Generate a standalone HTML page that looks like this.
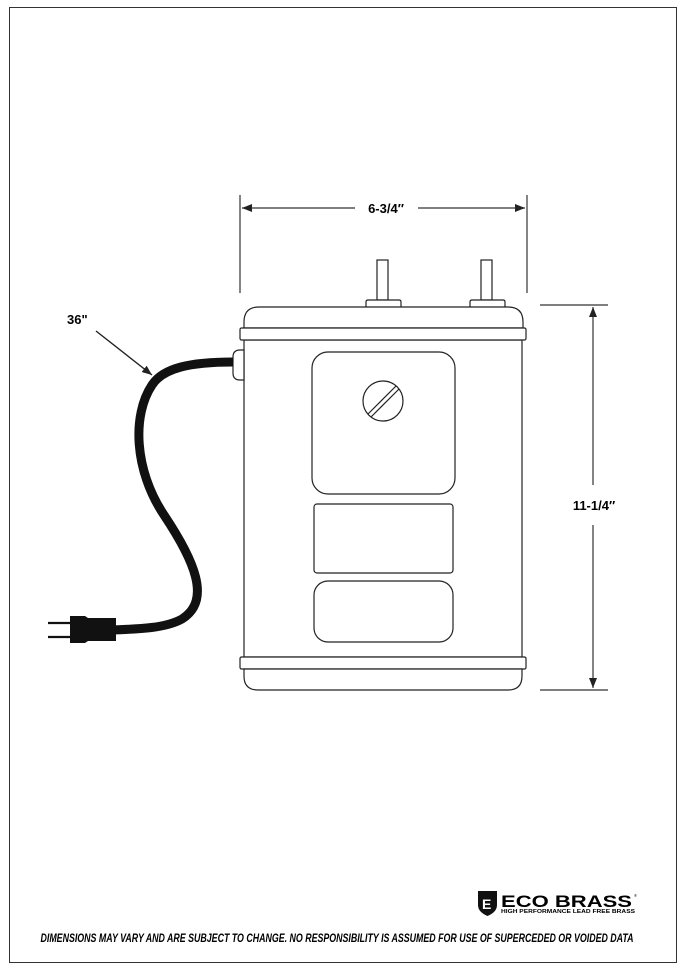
<!DOCTYPE html>
<html><head><meta charset="utf-8"><style>
html,body{margin:0;padding:0;background:#fff;}
svg{display:block;}
text{font-family:"Liberation Sans",sans-serif;}
</style></head><body>
<svg width="686" height="971" viewBox="0 0 686 971" xmlns="http://www.w3.org/2000/svg">
<defs>
<marker id="ah" markerWidth="10" markerHeight="8" refX="10" refY="4" orient="auto" markerUnits="userSpaceOnUse"><path d="M0,0 L10,4 L0,8 Z" fill="#222"/></marker>
</defs>
<rect x="9.5" y="7.5" width="667" height="955" fill="none" stroke="#333" stroke-width="1"/>
<g stroke="#333" stroke-width="1.2" fill="none">
<line x1="240" y1="195" x2="240" y2="293"/>
<line x1="527" y1="195" x2="527" y2="293"/>
</g>
<line x1="355" y1="208" x2="242" y2="208" stroke="#333" stroke-width="1.2" marker-end="url(#ah)"/>
<line x1="418" y1="208" x2="525" y2="208" stroke="#333" stroke-width="1.2" marker-end="url(#ah)"/>
<text x="386" y="213" font-size="13" font-weight="bold" text-anchor="middle">6-3/4″</text>
<line x1="540" y1="305" x2="608" y2="305" stroke="#333" stroke-width="1.2"/>
<line x1="540" y1="690" x2="608" y2="690" stroke="#333" stroke-width="1.2"/>
<line x1="593" y1="485" x2="593" y2="307" stroke="#333" stroke-width="1.2" marker-end="url(#ah)"/>
<line x1="593" y1="525" x2="593" y2="688" stroke="#333" stroke-width="1.2" marker-end="url(#ah)"/>
<text x="594" y="510" font-size="13" font-weight="bold" text-anchor="middle">11-1/4″</text>
<g fill="#fff" stroke="#222" stroke-width="1.2">
<rect x="377" y="260" width="11" height="40"/>
<rect x="481" y="260" width="11" height="40"/>
<path d="M366,307 V302 Q366,300 368,300 H399 Q401,300 401,302 V307"/>
<path d="M470,307 V302 Q470,300 472,300 H503 Q505,300 505,302 V307"/>
<path d="M244,328 V322 Q244,307 259,307 H508 Q523,307 523,322 V328 Z"/>
<rect x="244" y="340" width="278" height="317"/>
<rect x="240" y="328" width="286" height="12" rx="1.5"/>
<rect x="240" y="657" width="286" height="12" rx="1.5"/>
<path d="M244,669 V676 Q244,690 258,690 H508 Q522,690 522,676 V669 Z"/>
<rect x="312" y="352" width="143" height="142" rx="16"/>
<rect x="314" y="504" width="139" height="69" rx="3"/>
<rect x="314" y="581" width="139" height="61" rx="14"/>
<circle cx="383" cy="401" r="20"/>
<path d="M233,357 Q233,350 240,350 H244 V380 H240 Q233,380 233,373 Z"/>
</g>
<line x1="368" y1="414" x2="396" y2="386" stroke="#222" stroke-width="1.2"/>
<line x1="371" y1="417" x2="399" y2="389" stroke="#222" stroke-width="1.2"/>
<path d="M233,362 C190,362 163,368 152,385 C132,415 134,470 164,515 C194,560 212,600 182,619 C166,628 140,629 112,630" fill="none" stroke="#111" stroke-width="9"/>
<path d="M70,616 H85 L88,618 L112,618 Q110,629 112,641 L88,641 L85,643 H70 Z" fill="#111"/>
<rect x="108" y="618" width="8" height="23" fill="#111"/>
<line x1="48" y1="623" x2="72" y2="623" stroke="#111" stroke-width="2.2"/>
<line x1="48" y1="637" x2="72" y2="637" stroke="#111" stroke-width="2.2"/>
<text x="67" y="324" font-size="13" font-weight="bold">36"</text>
<line x1="96" y1="331" x2="152" y2="375" stroke="#222" stroke-width="1.4" marker-end="url(#ah)"/>
<path d="M478,891 H497 V905 Q497,912 487.5,916 Q478,912 478,905 Z" fill="#111"/>
<text x="482" y="909" font-size="14" font-weight="bold" fill="#fff" font-family="Liberation Serif">E</text>
<text x="501" y="907" font-size="17" font-weight="bold" textLength="131" lengthAdjust="spacingAndGlyphs">ECO BRASS</text>
<text x="634" y="897" font-size="4">®</text>
<text x="501" y="913" font-size="5" font-weight="bold" textLength="134" lengthAdjust="spacingAndGlyphs">HIGH PERFORMANCE LEAD FREE BRASS</text>
<text x="337" y="942" font-size="12" font-weight="bold" font-style="italic" text-anchor="middle" textLength="593" lengthAdjust="spacingAndGlyphs">DIMENSIONS MAY VARY AND ARE SUBJECT TO CHANGE. NO RESPONSIBILITY IS ASSUMED FOR USE OF SUPERCEDED OR VOIDED DATA</text>
</svg>
</body></html>
